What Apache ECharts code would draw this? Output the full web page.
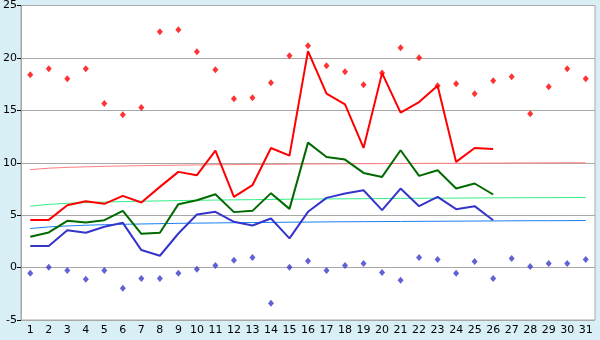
<!DOCTYPE html>
<html><head><meta charset="utf-8">
<script src="https://cdn.jsdelivr.net/npm/echarts@6/dist/echarts.min.js"></script>
<style>html,body{margin:0;padding:0;background:#d9eff6;}#c{width:600px;height:340px;}</style>
</head><body><div id="c"></div>
<script>
var days = [1,2,3,4,5,6,7,8,9,10,11,12,13,14,15,16,17,18,19,20,21,22,23,24,25,26,27,28,29,30,31];
var yTicks = [-5,0,5,10,15,20,25];
var avgMax = [4.55,4.55,5.95,6.33,6.08,6.84,6.21,7.7,9.13,8.81,11.15,6.75,7.86,11.41,10.68,20.65,16.59,15.57,11.41,18.55,14.78,15.79,17.35,10.08,11.41,11.32];
var avgMean = [2.94,3.35,4.46,4.3,4.52,5.41,3.22,3.32,6.05,6.43,7.0,5.29,5.41,7.1,5.6,11.92,10.55,10.3,9.03,8.65,11.19,8.75,9.29,7.54,8.02,6.97];
var avgMin = [2.05,2.05,3.57,3.32,3.89,4.27,1.67,1.13,3.25,5.06,5.32,4.37,4.02,4.68,2.78,5.32,6.65,7.06,7.38,5.48,7.54,5.86,6.75,5.57,5.86,4.52];
var maxPts = [18.4,18.97,18.02,18.97,15.64,14.59,15.26,22.5,22.68,20.59,18.87,16.11,16.2,17.64,20.21,21.16,19.26,18.69,17.45,18.55,20.97,20.02,17.35,17.54,16.59,17.83,18.21,14.68,17.26,18.97,18.02];
var minPts = [-0.55,0.02,-0.27,-1.12,-0.27,-1.98,-1.03,-1.03,-0.55,-0.17,0.21,0.71,0.97,-3.41,0.02,0.62,-0.27,0.21,0.4,-0.46,-1.22,0.97,0.78,-0.55,0.59,-1.03,0.87,0.11,0.4,0.4,0.78];
var trendMax = [9.35,9.48,9.56,9.61,9.66,9.69,9.72,9.75,9.77,9.79,9.81,9.82,9.84,9.85,9.86,9.88,9.89,9.90,9.91,9.92,9.93,9.94,9.95,9.95,9.96,9.97,9.98,9.98,9.99,10.0,10.0];
var trendMean = [5.86,6.03,6.13,6.20,6.25,6.29,6.33,6.36,6.39,6.42,6.44,6.46,6.48,6.50,6.52,6.53,6.55,6.56,6.57,6.59,6.60,6.61,6.62,6.63,6.64,6.65,6.66,6.67,6.67,6.68,6.69];
var trendMin = [3.73,3.88,3.97,4.04,4.09,4.13,4.16,4.19,4.22,4.24,4.26,4.28,4.30,4.31,4.33,4.34,4.36,4.37,4.38,4.39,4.40,4.41,4.42,4.43,4.44,4.45,4.46,4.47,4.47,4.48,4.49];

var chart = echarts.init(document.getElementById('c'), null, {renderer:'canvas'});
function line(data, color, w, z){
  return {type:'line', data:data, symbol:'none', silent:true, z:z,
    lineStyle:{color:color, width:w}, itemStyle:{color:color}, animation:false};
}
function pts(data, color){
  return {type:'scatter', data:data, symbol:'diamond', symbolSize:[6,7], z:5,
    itemStyle:{color:color}, animation:false};
}
chart.setOption({
  animation:false,
  backgroundColor:'#d9eff6',
  grid:{left:20, right:5, top:5, bottom:20, show:true, backgroundColor:'#ffffff', borderColor:'#a8a8a8', borderWidth:1},
  xAxis:{type:'category', data:days.map(String), boundaryGap:true,
    axisLine:{lineStyle:{color:'#a8a8a8'}},
    axisTick:{alignWithLabel:true, length:4, lineStyle:{color:'#000'}},
    axisLabel:{color:'#000', fontFamily:'DejaVu Sans', fontSize:11, margin:5, interval:0},
    splitLine:{show:false}},
  yAxis:{type:'value', min:yTicks[0], max:yTicks[yTicks.length-1], interval:5,
    axisLine:{show:true, lineStyle:{color:'#a8a8a8'}},
    axisTick:{show:true, length:4, lineStyle:{color:'#000'}},
    axisLabel:{color:'#000', fontFamily:'DejaVu Sans', fontSize:11, margin:4},
    splitLine:{lineStyle:{color:'#a8a8a8'}}},
  series:[
    line(trendMax,'#ff7f7f',1,1),
    line(trendMean,'#33ee88',1,1),
    line(trendMin,'#1a7ff0',1,1),
    line(avgMax,'#ff0000',2,3),
    line(avgMean,'#006a00',2,3),
    line(avgMin,'#3535cc',2,3),
    pts(maxPts,'#ff0000'),
    pts(minPts,'#3a3acc')
  ]
});
</script></body></html>
